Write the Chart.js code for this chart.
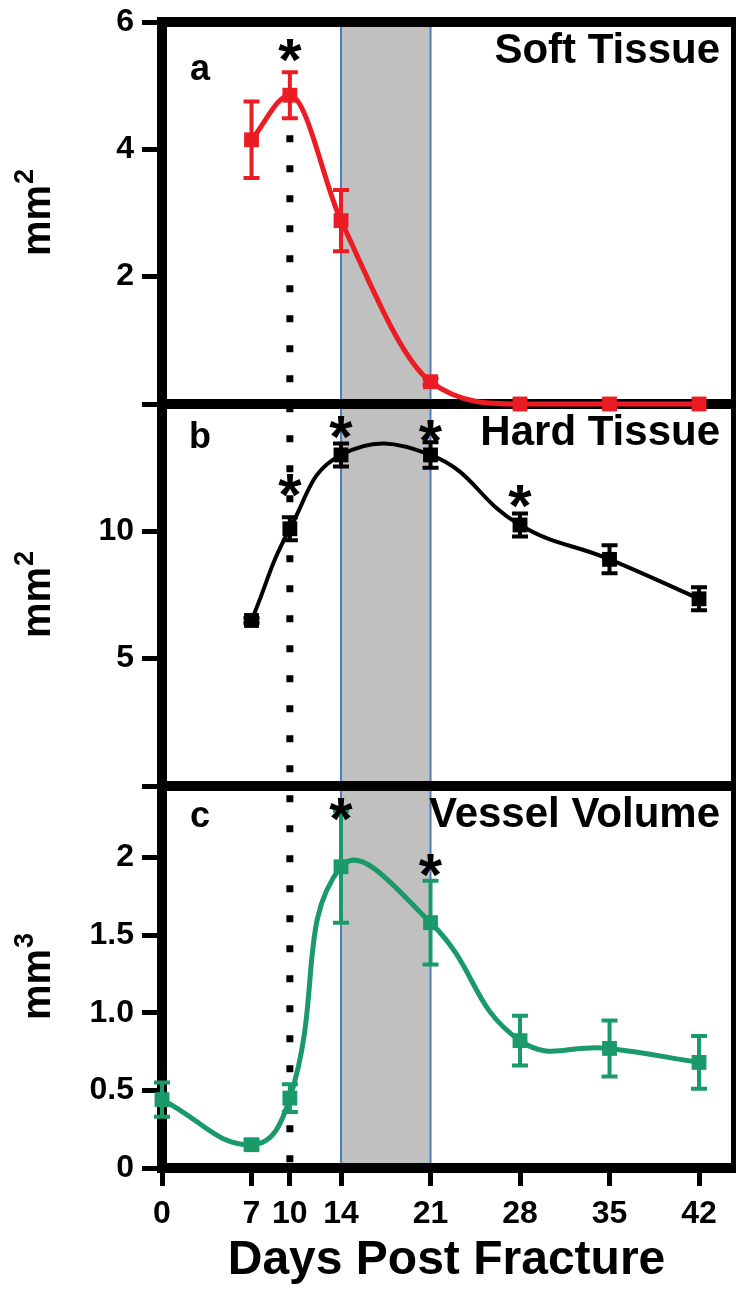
<!DOCTYPE html>
<html>
<head>
<meta charset="utf-8">
<script src="https://cdn.jsdelivr.net/npm/chart.js@4.4.1/dist/chart.umd.min.js"></script>
<style>
  html, body { margin: 0; padding: 0; background: #fff; }
  canvas { display: block; }
</style>
</head>
<body>
<canvas id="chart" width="736" height="1290"></canvas>
<script>
// x axis
const xTicks = [0, 7, 10, 14, 21, 28, 35, 42];
const xMax = 44.5;

// panel a - soft tissue (mm2)
const softDays = [7, 10, 14, 21, 28, 35, 42];
const softArea = [4.15, 4.85, 2.88, 0.35, 0, 0, 0];
const softErr = [0.6, 0.36, 0.48, 0.05, 0, 0, 0];
const softTicks = [0, 2, 4, 6];
const softTickLabels = ['', '2', '4', '6'];
const softStarDays = [10];
const softStarLevels = [5.6];

// panel b - hard tissue (mm2)
const hardDays = [7, 10, 14, 21, 28, 35, 42];
const hardArea = [6.5, 10.1, 13.0, 13.0, 10.25, 8.9, 7.35];
const hardErr = [0.1, 0.45, 0.45, 0.5, 0.45, 0.55, 0.45];
const hardTicks = [0, 5, 10, 15];
const hardTickLabels = ['', '5', '10', ''];
const hardStarDays = [10, 14, 21, 28];
const hardStarLevels = [11.95, 14.2, 14.05, 11.5];

// panel c - vessel volume (mm3)
const vesselDays = [0, 7, 10, 14, 21, 28, 35, 42];
const vesselVol = [0.44, 0.15, 0.45, 1.94, 1.58, 0.82, 0.77, 0.68];
const vesselErr = [0.11, 0.03, 0.09, 0.36, 0.27, 0.16, 0.18, 0.17];
const vesselTicks = [0, 0.5, 1, 1.5, 2, 2.46];
const vesselTickLabels = ['0', '0.5', '1.0', '1.5', '2', ''];
const vesselStarDays = [14, 21];
const vesselStarLevels = [2.33, 1.97];

// shaded window + dotted marker
const bandStart = 14;
const bandEnd = 21;
const markerDay = 10;
const markerLevel = 4.85;

const FONT = '"Liberation Sans", Arial, sans-serif';
const RED = '#ec1c24';
const BLACK = '#000000';
const GREEN = '#1a9a68';

Chart.defaults.font.family = FONT;
Chart.defaults.color = '#000';

const toPoints = (xs, ys) => xs.map((x, i) => ({ x: x, y: ys[i] }));

// drop the label overhang padding so layout.padding alone places the frame
function noOverhang(s) {
    s.paddingTop = 0;
    s.paddingBottom = 0;
    s.paddingLeft = 0;
    s.paddingRight = 0;
}

function yScale(ticks, labels, max) {
    return {
        type: 'linear',
        position: 'left',
        stack: 'panels',
        stackWeight: 1,
        min: 0,
        max: max,
        afterBuildTicks: s => { s.ticks = ticks.map(v => ({ value: v })); },
        afterFit: s => { s.width = 162; noOverhang(s); },
        ticks: {
            callback: (v, i) => labels[i],
            font: { size: 32, weight: 'bold' },
            color: '#000',
            padding: 8
        },
        grid: { drawOnChartArea: false, tickLength: 20, lineWidth: 5, color: '#000' },
        border: { display: true, width: 10, color: '#000' }
    };
}

const panels = [
    { scale: 'yA', title: 'Soft Tissue', letter: 'a', unit: '2', starDays: softStarDays, starLevels: softStarLevels, letterDy: 58 },
    { scale: 'yB', title: 'Hard Tissue', letter: 'b', unit: '2', starDays: hardStarDays, starLevels: hardStarLevels, letterDy: 44 },
    { scale: 'yC', title: 'Vessel Volume', letter: 'c', unit: '3', starDays: vesselStarDays, starLevels: vesselStarLevels, letterDy: 41 }
];

const decorPlugin = {
    id: 'decor',
    beforeDraw(chart) {
        const { ctx, chartArea, scales } = chart;
        const x = scales.x;
        const x1 = x.getPixelForValue(bandStart);
        const x2 = x.getPixelForValue(bandEnd);
        ctx.save();
        ctx.fillStyle = '#c0c0c0';
        ctx.fillRect(x1, chartArea.top, x2 - x1, chartArea.bottom - chartArea.top);
        ctx.strokeStyle = '#4f7db8';
        ctx.lineWidth = 2;
        [x1, x2].forEach(px => {
            ctx.beginPath();
            ctx.moveTo(px, chartArea.top);
            ctx.lineTo(px, chartArea.bottom);
            ctx.stroke();
        });
        ctx.restore();
    },
    beforeDatasetsDraw(chart) {
        const { ctx, chartArea, scales } = chart;
        ctx.save();
        ctx.strokeStyle = '#000';
        // frame lines: top, between panels, right edge
        ctx.lineWidth = 10;
        [scales.yA.top, scales.yA.bottom, scales.yB.bottom].forEach(py => {
            ctx.beginPath();
            ctx.moveTo(chartArea.left, py);
            ctx.lineTo(chart.width, py);
            ctx.stroke();
        });
        ctx.lineWidth = 6;
        ctx.beginPath();
        ctx.moveTo(chartArea.right + 3, chartArea.top - 5);
        ctx.lineTo(chartArea.right + 3, chartArea.bottom + 5);
        ctx.stroke();
        // dotted marker line
        const mx = scales.x.getPixelForValue(markerDay);
        ctx.lineWidth = 7;
        ctx.setLineDash([7, 23]);
        ctx.beginPath();
        ctx.moveTo(mx, scales.yA.getPixelForValue(markerLevel) + 40);
        ctx.lineTo(mx, chartArea.bottom);
        ctx.stroke();
        ctx.restore();
    },
    afterDatasetsDraw(chart) {
        const { ctx, chartArea, scales } = chart;
        const x = scales.x;
        ctx.save();
        // error bars
        chart.data.datasets.forEach(ds => {
            const y = scales[ds.yAxisID];
            ctx.strokeStyle = ds.borderColor;
            ctx.lineWidth = 4;
            ds.data.forEach((p, i) => {
                const e = ds.errors[i];
                if (!e) return;
                const px = x.getPixelForValue(p.x);
                const top = y.getPixelForValue(p.y + e);
                const bot = y.getPixelForValue(p.y - e);
                ctx.beginPath();
                ctx.moveTo(px, top);
                ctx.lineTo(px, bot);
                ctx.moveTo(px - 8, top);
                ctx.lineTo(px + 8, top);
                ctx.moveTo(px - 8, bot);
                ctx.lineTo(px + 8, bot);
                ctx.stroke();
            });
        });
        ctx.fillStyle = '#000';
        panels.forEach(pn => {
            const y = scales[pn.scale];
            // significance stars
            ctx.font = 'bold 60px ' + FONT;
            ctx.textAlign = 'center';
            ctx.textBaseline = 'alphabetic';
            pn.starDays.forEach((d, i) => {
                ctx.fillText('*', x.getPixelForValue(d), y.getPixelForValue(pn.starLevels[i]) + 33);
            });
            // panel letter
            ctx.font = 'bold 36px ' + FONT;
            ctx.fillText(pn.letter, chartArea.left + 38, y.top + pn.letterDy);
            // panel title
            ctx.font = 'bold 42px ' + FONT;
            ctx.textAlign = 'right';
            ctx.textBaseline = 'middle';
            ctx.fillText(pn.title, chartArea.right - 11, y.top + 29);
            // y axis unit
            const cy = (y.top + y.bottom) / 2;
            ctx.save();
            ctx.translate(50, cy);
            ctx.rotate(-Math.PI / 2);
            ctx.textAlign = 'left';
            ctx.textBaseline = 'alphabetic';
            ctx.font = 'bold 40px ' + FONT;
            const w1 = ctx.measureText('mm').width;
            ctx.font = 'bold 27px ' + FONT;
            const w2 = ctx.measureText(pn.unit).width;
            const sx = -(w1 + w2) / 2;
            ctx.font = 'bold 40px ' + FONT;
            ctx.fillText('mm', sx, 0);
            ctx.font = 'bold 27px ' + FONT;
            ctx.fillText(pn.unit, sx + w1 + 1, -17);
            ctx.restore();
        });
        ctx.restore();
    }
};

new Chart(document.getElementById('chart'), {
    type: 'line',
    data: {
        datasets: [
            {
                label: 'Soft Tissue',
                data: toPoints(softDays, softArea),
                errors: softErr,
                yAxisID: 'yA',
                borderColor: RED,
                backgroundColor: RED,
                borderWidth: 5,
                pointStyle: 'rect',
                pointRadius: 10.5,
                pointBorderWidth: 0,
                cubicInterpolationMode: 'monotone',
                clip: false
            },
            {
                label: 'Hard Tissue',
                data: toPoints(hardDays, hardArea),
                errors: hardErr,
                yAxisID: 'yB',
                borderColor: BLACK,
                backgroundColor: BLACK,
                borderWidth: 4,
                pointStyle: 'rect',
                pointRadius: 10.5,
                pointBorderWidth: 0,
                tension: 0.45,
                clip: false
            },
            {
                label: 'Vessel Volume',
                data: toPoints(vesselDays, vesselVol),
                errors: vesselErr,
                yAxisID: 'yC',
                borderColor: GREEN,
                backgroundColor: GREEN,
                borderWidth: 5,
                pointStyle: 'rect',
                pointRadius: 10.5,
                pointBorderWidth: 0,
                tension: 0.45,
                clip: false
            }
        ]
    },
    options: {
        responsive: false,
        animation: false,
        devicePixelRatio: 1,
        layout: { autoPadding: false, padding: { top: 22, right: 5, left: 0, bottom: 0 } },
        plugins: { legend: { display: false }, tooltip: { enabled: false } },
        scales: {
            x: {
                type: 'linear',
                min: 0,
                max: xMax,
                afterBuildTicks: s => { s.ticks = xTicks.map(v => ({ value: v })); },
                afterFit: s => { s.height = 122; noOverhang(s); },
                ticks: {
                    callback: v => String(v),
                    font: { size: 32, weight: 'bold' },
                    color: '#000',
                    padding: 9,
                    autoSkip: false,
                    maxRotation: 0
                },
                grid: { drawOnChartArea: false, tickLength: 18, lineWidth: 5, color: '#000' },
                border: { display: true, width: 10, color: '#000' },
                title: {
                    display: true,
                    text: 'Days Post Fracture',
                    font: { size: 48, weight: 'bold' },
                    color: '#000',
                    padding: { top: 0, bottom: 0 }
                }
            },
            yC: yScale(vesselTicks, vesselTickLabels, 2.46),
            yB: yScale(hardTicks, hardTickLabels, 15),
            yA: yScale(softTicks, softTickLabels, 6)
        }
    },
    plugins: [decorPlugin]
});
</script>
</body>
</html>
